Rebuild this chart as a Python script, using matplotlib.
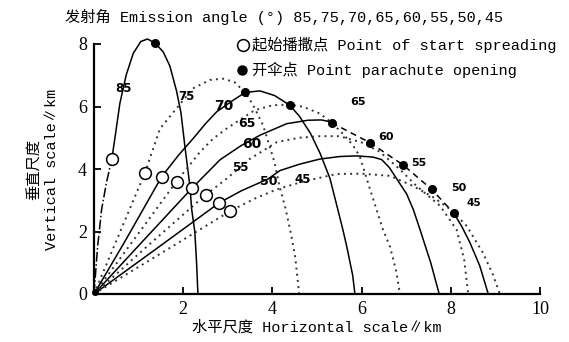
import matplotlib
matplotlib.use("Agg")
import matplotlib.pyplot as plt

# font lists: latin first, CJK fallback
LAT = ['Liberation Serif', 'Noto Sans CJK SC', 'DejaVu Sans']
MONO = ['Liberation Mono', 'Noto Sans CJK SC', 'DejaVu Sans']

# trajectories (km)
x85 = [0, 0.08, 0.17, 0.28, 0.40, 0.48, 0.58, 0.72, 0.88, 1.05, 1.20, 1.37, 1.55, 1.70, 1.85, 1.95, 2.04, 2.15, 2.19, 2.26, 2.30, 2.33]
y85 = [0, 1.5, 2.7, 3.57, 4.32, 5.1, 6.1, 7.0, 7.7, 8.08, 8.16, 8.03, 7.75, 7.3, 6.5, 5.8, 4.7, 3.46, 2.71, 2.0, 1.0, 0]

x75 = [0, 0.5, 1.14, 1.48, 1.85, 2.22, 2.6, 2.89, 3.15, 3.39, 3.57, 3.79, 3.9, 4.05, 4.15, 4.3, 4.42, 4.51, 4.6]
y75 = [0, 1.7, 3.87, 5.29, 5.94, 6.58, 6.85, 6.89, 6.78, 6.45, 6.04, 5.4, 4.9, 4.2, 3.5, 2.7, 1.9, 1.2, 0]

x70 = [0, 0.7, 1.52, 1.9, 2.22, 2.5, 2.75, 3.12, 3.39, 3.72, 4.05, 4.39, 4.6, 4.85, 5.07, 5.29, 5.45, 5.58, 5.67, 5.8, 5.85]
y70 = [0, 1.7, 3.76, 4.45, 4.97, 5.45, 5.83, 6.2, 6.45, 6.5, 6.35, 6.04, 5.7, 5.15, 4.5, 3.7, 2.8, 2.06, 1.5, 0.6, 0]

x65 = [0, 0.9, 1.85, 2.38, 2.67, 2.97, 3.3, 3.6, 4.01, 4.39, 4.69, 5.07, 5.33, 5.6, 5.81, 5.96, 6.2, 6.48, 6.64, 6.78, 6.86]
y65 = [0, 1.75, 3.6, 4.55, 4.97, 5.29, 5.6, 5.88, 6.04, 6.06, 5.99, 5.77, 5.48, 5.1, 4.75, 4.4, 3.3, 2.06, 1.5, 0.7, 0]

x60 = [0, 1.1, 2.2, 2.83, 3.3, 3.72, 4.32, 4.8, 5.1, 5.33]
y60 = [0, 1.7, 3.39, 4.3, 4.75, 5.08, 5.45, 5.56, 5.57, 5.5]

x55 = [0, 1.25, 2.5, 3.0, 3.49, 4.1, 4.6, 5.07, 5.5, 6.0, 6.41, 6.85, 7.23, 7.76, 8.13, 8.3, 8.39]
y55 = [0, 1.6, 3.17, 3.72, 4.32, 4.86, 5.0, 5.05, 5.05, 4.85, 4.55, 4.0, 3.46, 2.82, 2.06, 1.1, 0]

x50 = [0, 1.4, 2.81, 3.3, 3.9, 4.17, 4.6, 5.07, 5.52, 5.9, 6.26, 6.45, 6.62, 6.79, 7.01, 7.16, 7.31, 7.55, 7.74]
y50 = [0, 1.45, 2.92, 3.3, 3.68, 3.95, 4.15, 4.32, 4.4, 4.42, 4.38, 4.3, 4.05, 3.68, 3.2, 2.7, 2.06, 1.0, 0]

x45 = [0, 1.5, 3.06, 3.6, 4.1, 4.69, 5.44, 6.0, 6.64, 7.15, 7.6, 8.0, 8.36, 8.72, 8.95, 9.1]
y45 = [0, 1.3, 2.66, 3.05, 3.35, 3.6, 3.84, 3.85, 3.78, 3.46, 3.1, 2.7, 2.17, 1.32, 0.6, 0]

# parachute descent after the last opening point
x_tail = [8.07, 8.25, 8.43, 8.65, 8.84]
y_tail = [2.58, 2.15, 1.64, 0.9, 0]

# start spreading points (open circles), angles 85..45
start_x = [0.40, 1.14, 1.52, 1.85, 2.20, 2.50, 2.81, 3.06]
start_y = [4.32, 3.87, 3.76, 3.60, 3.39, 3.17, 2.92, 2.66]

# parachute opening points (filled), angles 85..45
open_x = [1.37, 3.39, 4.39, 5.33, 6.19, 6.93, 7.57, 8.07]
open_y = [8.03, 6.45, 6.04, 5.48, 4.84, 4.13, 3.35, 2.58]

# curve labels
lab_text = ['85', '75', '70', '65', '60', '55', '50', '45', '65', '60', '55', '50', '45']
lab_x = [0.66, 2.08, 2.90, 3.42, 3.54, 3.27, 3.91, 4.69, 5.93, 6.55, 7.28, 8.18, 8.52]
lab_y = [6.58, 6.31, 6.00, 5.45, 4.81, 4.06, 3.59, 3.66, 6.13, 5.02, 4.19, 3.38, 2.90]
lab_size = [8.5, 8.5, 10, 9, 10, 8.5, 9, 8.5, 8, 8, 8, 8, 7.5]

fig = plt.figure(figsize=(5.69, 3.42), dpi=100)
ax = fig.add_axes([94 / 569, 48 / 342, 446 / 569, 250 / 342])

dot = (0, (1, 2.2))
solid_kw = dict(color='black', lw=1.1, clip_on=False)
dot_kw = dict(color='#333333', lw=1.4, linestyle=dot, clip_on=False)

# 85 deg: dash-dot below the start point, solid above
ax.plot(x85[:5], y85[:5], linestyle='-.', color='black', lw=1.1, clip_on=False)
ax.plot(x85[4:], y85[4:], **solid_kw)
ax.plot(x75, y75, **dot_kw)
ax.plot(x70, y70, **solid_kw)
ax.plot(x65, y65, **dot_kw)
ax.plot(x60, y60, **solid_kw)
ax.plot(x55, y55, **dot_kw)
ax.plot(x50, y50, **solid_kw)
ax.plot(x45, y45, **dot_kw)

# dashed line through the opening points of 65..45, then final descent
ax.plot(open_x[3:], open_y[3:], color='black', lw=1.1, linestyle=(0, (4, 3)), clip_on=False)
ax.plot(x_tail, y_tail, **solid_kw)

ax.plot(start_x, start_y, 'o', ms=8.5, mfc='white', mec='black', mew=1.1, clip_on=False, zorder=5)
ax.plot(open_x, open_y, 'o', ms=5.5, color='black', clip_on=False, zorder=5)
ax.plot([0.03], [0.05], 'o', ms=4, color='black', clip_on=False)

for t, lx, ly, s in zip(lab_text, lab_x, lab_y, lab_size):
    ax.text(lx, ly, t, fontsize=s, fontweight='bold', family='DejaVu Sans',
            ha='center', va='center', zorder=6)

ax.set_xlim(0, 10)
ax.set_ylim(0, 8)
for s in ['top', 'right']:
    ax.spines[s].set_visible(False)
for s in ['left', 'bottom']:
    ax.spines[s].set_linewidth(1.6)
ax.set_xticks([2, 4, 6, 8, 10])
ax.set_yticks([0, 2, 4, 6, 8])
ax.tick_params(direction='in', length=5, width=1.3, labelsize=13, pad=5)
for lbl in ax.get_xticklabels() + ax.get_yticklabels():
    lbl.set_family(LAT)

ax.set_xlabel('水平尺度 Horizontal scale∥km', fontsize=11, family=MONO, labelpad=2)
ax.set_ylabel('垂直尺度\nVertical scale∥km', fontsize=11, family=MONO, labelpad=14,
              linespacing=1.25)

fig.text(0.5, 1 - 17 / 342, '发射角 Emission angle (°) 85,75,70,65,60,55,50,45',
         fontsize=11, family=MONO, ha='center', va='center')

# legend drawn by hand in figure coordinates
fig.lines.append(plt.Line2D([243 / 569], [1 - 45 / 342], marker='o', ms=8.5, mfc='white',
                            mec='black', mew=1.1, transform=fig.transFigure))
fig.lines.append(plt.Line2D([242 / 569], [1 - 70 / 342], marker='o', ms=6.5, color='black',
                            transform=fig.transFigure))
fig.text(252 / 569, 1 - 45 / 342, '起始播撒点 Point of start spreading', fontsize=11,
         family=MONO, va='center')
fig.text(252 / 569, 1 - 70 / 342, '开伞点 Point parachute opening', fontsize=11,
         family=MONO, va='center')

fig.savefig('out.png', dpi=100)
